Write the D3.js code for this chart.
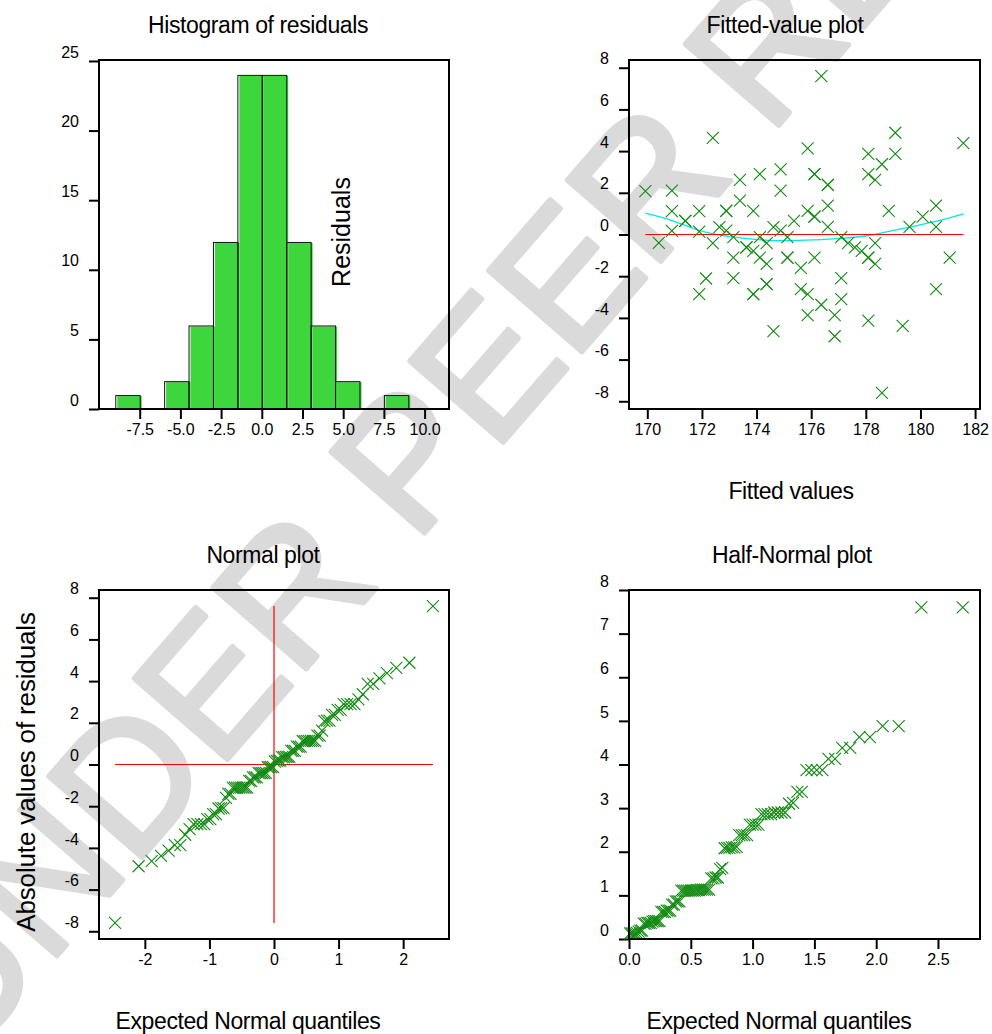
<!DOCTYPE html>
<html>
<head>
<meta charset="utf-8">
<script src="https://cdn.jsdelivr.net/npm/d3@7"></script>
<style>
  body { margin: 0; background: #fff; }
  svg { display: block; font-family: "Liberation Sans", Arial, sans-serif; }
</style>
</head>
<body>
<div id="wrapper"></div>
<script>
width = 992
height = 1034

// fitted values and residuals (90 obs)
var fitted = [
  169.93, 170.42, 170.9, 170.9, 170.9, 171.39, 171.39, 171.9, 171.9, 171.9,
  172.15, 172.4, 172.4, 172.64, 172.89, 172.89, 172.89, 173.15, 173.15, 173.15,
  173.39, 173.39, 173.63, 173.63, 173.88, 173.88, 173.88, 173.88, 174.12, 174.12,
  174.12, 174.37, 174.37, 174.37, 174.37, 174.62, 174.62, 174.88, 174.88, 174.88,
  175.13, 175.13, 175.13, 175.37, 175.62, 175.62, 175.87, 175.87, 175.87, 175.87,
  176.12, 176.12, 176.12, 176.12, 176.12, 176.37, 176.37, 176.61, 176.61, 176.61,
  176.61, 176.86, 176.86, 177.1, 177.1, 177.1, 177.35, 177.6, 177.85, 178.09,
  178.09, 178.09, 178.09, 178.09, 178.34, 178.34, 178.34, 178.59, 178.59, 178.84,
  179.08, 179.08, 179.35, 179.6, 180.08, 180.57, 180.57, 180.57, 181.07, 181.57
]
var residuals = [
  2.08, -0.40, 2.1, 1.12, 0.17, 0.65, 0.65, 1.12, 0.14, -2.86,
  -2.11, 4.63, -0.41, 0.35, 1.13, 1.13, 0.19, -0.13, -1.11, -2.09,
  2.62, 1.63, -0.62, -0.62, 1.13, -0.79, -2.86, -2.86, 2.9, -0.13,
  -1.11, -0.41, -1.41, -2.38, -2.38, 0.35, -4.63, 3.12, 2.1, 0.19,
  -0.13, -1.11, -1.11, 0.65, -1.6, -2.62, 4.13, 1.13, -2.86, -3.87,
  2.9, 2.9, 0.86, 0.86, -1.11, 7.6, -3.37, 2.38, 2.38, 1.39,
  0.37, -3.87, -4.88, -0.13, -2.09, -3.1, -0.41, -0.62, -0.79, 3.87,
  2.9, -1.11, -1.11, -4.13, 2.62, -0.41, -1.41, 3.37, -7.6, 1.13,
  4.88, 3.87, -4.38, 0.37, 0.86, 1.39, 0.37, -2.62, -1.11, 4.38
]

// histogram bins (width 1.5) and counts
var binEdges = [-9, -7.5, -6, -4.5, -3, -1.5, 0, 1.5, 3, 4.5, 6, 7.5, 9]
var binCounts = [1, 0, 2, 6, 12, 24, 24, 12, 6, 2, 0, 1]

// smooth (cyan) curve through the fitted-value plot
var smoothX = [169.93, 170.9, 171.92, 172.9, 173.88, 174.6, 175.1, 176.08, 177.05, 178.03, 178.77, 179.6, 180.6, 181.58]
var smoothY = [1.02, 0.67, 0.19, -0.08, -0.22, -0.29, -0.29, -0.26, -0.19, -0.06, 0.13, 0.35, 0.64, 0.99]

// tick values
var histXTicks = [-7.5, -5, -2.5, 0, 2.5, 5, 7.5, 10]
var histYTicks = [0, 5, 10, 15, 20, 25]
var fitXTicks = [170, 172, 174, 176, 178, 180, 182]
var resTicks = [-8, -6, -4, -2, 0, 2, 4, 6, 8]
var normXTicks = [-2, -1, 0, 1, 2]
var halfXTicks = [0, 0.5, 1, 1.5, 2, 2.5]
var halfYTicks = [0, 1, 2, 3, 4, 5, 6, 7, 8]

var green = "#118a11"
var barGreen = "#3dd63d"

// plain hyphen minus, like the original
var fmt1 = d => d.toFixed(1)
var fmt0 = d => String(d)

// inverse normal cdf (Acklam) for the expected quantiles
function qnorm(p) {
    const a = [-3.969683028665376e+01, 2.209460984245205e+02, -2.759285104469687e+02, 1.383577518672690e+02, -3.066479806614716e+01, 2.506628277459239e+00]
    const b = [-5.447609879822406e+01, 1.615858368580409e+02, -1.556989798598866e+02, 6.680131188771972e+01, -1.328068155288572e+01]
    const c = [-7.784894002430293e-03, -3.223964580411365e-01, -2.400758277161838e+00, -2.549732539343734e+00, 4.374664141464968e+00, 2.938163982698783e+00]
    const d = [7.784695709041462e-03, 3.224671290700398e-01, 2.445134137142996e+00, 3.754408661907416e+00]
    var q, r
    if (p < 0.02425) {
        q = Math.sqrt(-2 * Math.log(p))
        return (((((c[0]*q+c[1])*q+c[2])*q+c[3])*q+c[4])*q+c[5]) / ((((d[0]*q+d[1])*q+d[2])*q+d[3])*q+1)
    }
    if (p > 1 - 0.02425) {
        q = Math.sqrt(-2 * Math.log(1 - p))
        return -(((((c[0]*q+c[1])*q+c[2])*q+c[3])*q+c[4])*q+c[5]) / ((((d[0]*q+d[1])*q+d[2])*q+d[3])*q+1)
    }
    q = p - 0.5
    r = q * q
    return (((((a[0]*r+a[1])*r+a[2])*r+a[3])*r+a[4])*r+a[5])*q / (((((b[0]*r+b[1])*r+b[2])*r+b[3])*r+b[4])*r+1)
}

const svg = d3.select("#wrapper").append("svg")
    .attr("width", width)
    .attr("height", height)

// watermark, behind everything
svg.append("text")
    .attr("transform", "translate(-38,1065) rotate(-49)")
    .attr("font-size", 180)
    .attr("fill", "#dadada")
    .attr("stroke", "#dadada")
    .attr("stroke-width", 5)
    .attr("stroke-linejoin", "round")
    .text("UNDER PEER REVIEW")

function panel(opt) {
    const g = svg.append("g")
    const x = d3.scaleLinear().domain(opt.xDomain).range([opt.left, opt.left + opt.w])
    const y = d3.scaleLinear().domain(opt.yDomain).range([opt.top + opt.h, opt.top])

    g.append("g")
        .attr("transform", `translate(0,${opt.top + opt.h})`)
        .call(d3.axisBottom(x).tickValues(opt.xTicks).tickFormat(opt.xFmt).tickSize(10).tickPadding(5))
        .call(a => a.select(".domain").remove())
        .call(a => a.selectAll("line").attr("stroke-width", 2))
        .call(a => a.selectAll("text").attr("font-size", 16).attr("fill", "#000").attr("font-family", null))

    g.append("g")
        .attr("transform", `translate(${opt.left},0)`)
        .call(d3.axisLeft(y).tickValues(opt.yTicks).tickFormat(opt.yFmt).tickSize(10).tickPadding(10))
        .call(a => a.select(".domain").remove())
        .call(a => a.selectAll("line").attr("stroke-width", 2))
        .call(a => a.selectAll("text").attr("font-size", 16).attr("fill", "#000").attr("font-family", null).attr("dy", "-0.24em"))

    const plot = g.append("g")
    g.append("rect")
        .attr("x", opt.left).attr("y", opt.top)
        .attr("width", opt.w).attr("height", opt.h)
        .attr("fill", "none").attr("stroke", "#000").attr("stroke-width", 2)

    g.append("text")
        .attr("x", opt.titleX).attr("y", opt.top - 27)
        .attr("text-anchor", "middle")
        .attr("font-size", 23).attr("letter-spacing", -0.4)
        .text(opt.title)

    return { x, y, plot, g }
}

function crosses(sel, pts, x, y) {
    sel.selectAll("path.pt")
        .data(pts)
        .join("path")
        .attr("class", "pt")
        .attr("d", d => `M${x(d[0]) - 6},${y(d[1]) - 6}L${x(d[0]) + 6},${y(d[1]) + 6}M${x(d[0]) - 6},${y(d[1]) + 6}L${x(d[0]) + 6},${y(d[1]) - 6}`)
        .attr("fill", "none")
        .attr("stroke", green)
        .attr("stroke-width", 1.1)
}

// ---- histogram of residuals
const h = panel({
    left: 99, top: 60, w: 350, h: 349,
    xDomain: [-10, 11.5], yDomain: [0, 25.07],
    xTicks: histXTicks, yTicks: histYTicks,
    xFmt: fmt1, yFmt: fmt0,
    title: "Histogram of residuals", titleX: 258
})
const bins = binCounts.map((c, i) => ({ x0: binEdges[i], x1: binEdges[i + 1], n: c })).filter(b => b.n > 0)
h.plot.selectAll("rect.fill")
    .data(bins)
    .join("rect")
    .attr("class", "fill")
    .attr("x", d => h.x(d.x0) + 2)
    .attr("y", d => h.y(d.n) + 1)
    .attr("width", d => h.x(d.x1) - h.x(d.x0))
    .attr("height", d => h.y(0) - h.y(d.n) - 1)
    .attr("fill", barGreen)
h.plot.selectAll("rect.edge")
    .data(bins)
    .join("rect")
    .attr("class", "edge")
    .attr("x", d => h.x(d.x0) + 0.5)
    .attr("y", d => h.y(d.n) + 0.5)
    .attr("width", d => h.x(d.x1) - h.x(d.x0))
    .attr("height", d => h.y(0) - h.y(d.n))
    .attr("fill", "none")
    .attr("stroke", "#111")
    .attr("stroke-width", 1)
h.g.append("text")
    .attr("transform", "translate(350,232) rotate(-90)")
    .attr("text-anchor", "middle")
    .attr("font-size", 25)
    .text("Residuals")

// ---- fitted-value plot
const f = panel({
    left: 629, top: 60, w: 351, h: 349,
    xDomain: [169.33, 182.18], yDomain: [-8.37, 8.37],
    xTicks: fitXTicks, yTicks: resTicks,
    xFmt: fmt0, yFmt: fmt0,
    title: "Fitted-value plot", titleX: 785
})
f.plot.append("path")
    .attr("d", d3.line().curve(d3.curveMonotoneX)(smoothX.map((v, i) => [f.x(v), f.y(smoothY[i])])))
    .attr("fill", "none").attr("stroke", "#00e8e8").attr("stroke-width", 1.3)
f.plot.append("line")
    .attr("x1", f.x(d3.min(fitted))).attr("x2", f.x(d3.max(fitted)))
    .attr("y1", f.y(0)).attr("y2", f.y(0))
    .attr("stroke", "#ff0000").attr("stroke-width", 1.2)
crosses(f.plot, fitted.map((v, i) => [v, residuals[i]]), f.x, f.y)
f.g.append("text")
    .attr("x", 791).attr("y", 499)
    .attr("text-anchor", "middle")
    .attr("font-size", 23).attr("letter-spacing", -0.4)
    .text("Fitted values")

// ---- normal plot
const n = residuals.length
const sorted = residuals.slice().sort(d3.ascending)
const normPts = sorted.map((r, i) => [qnorm((i + 1 - 0.375) / (n + 0.25)), r])
const np = panel({
    left: 99, top: 590, w: 350, h: 349,
    xDomain: [-2.71, 2.71], yDomain: [-8.37, 8.37],
    xTicks: normXTicks, yTicks: resTicks,
    xFmt: fmt0, yFmt: fmt0,
    title: "Normal plot", titleX: 263
})
np.plot.append("line")
    .attr("x1", np.x(normPts[0][0])).attr("x2", np.x(normPts[n - 1][0]))
    .attr("y1", np.y(0)).attr("y2", np.y(0))
    .attr("stroke", "#ff0000").attr("stroke-width", 1.2)
np.plot.append("line")
    .attr("x1", np.x(0)).attr("x2", np.x(0))
    .attr("y1", np.y(sorted[0])).attr("y2", np.y(sorted[n - 1]))
    .attr("stroke", "#ff0000").attr("stroke-width", 1.2)
crosses(np.plot, normPts, np.x, np.y)
np.g.append("text")
    .attr("transform", "translate(35,772) rotate(-90)")
    .attr("text-anchor", "middle")
    .attr("font-size", 26).attr("letter-spacing", -0.15)
    .text("Absolute values of residuals")
np.g.append("text")
    .attr("x", 248).attr("y", 1029)
    .attr("text-anchor", "middle")
    .attr("font-size", 23).attr("letter-spacing", -0.4)
    .text("Expected Normal quantiles")

// ---- half-normal plot
const absSorted = residuals.map(Math.abs).sort(d3.ascending)
const halfPts = absSorted.map((r, i) => [qnorm(0.5 + 0.5 * (i + 1 - 0.375) / (n + 0.25)), r])
const hp = panel({
    left: 629, top: 590, w: 351, h: 349,
    xDomain: [0, 2.84], yDomain: [0, 8],
    xTicks: halfXTicks, yTicks: halfYTicks,
    xFmt: fmt1, yFmt: fmt0,
    title: "Half-Normal plot", titleX: 792
})
crosses(hp.plot, halfPts, hp.x, hp.y)
hp.g.append("text")
    .attr("x", 779).attr("y", 1029)
    .attr("text-anchor", "middle")
    .attr("font-size", 23).attr("letter-spacing", -0.4)
    .text("Expected Normal quantiles")
</script>
</body>
</html>
